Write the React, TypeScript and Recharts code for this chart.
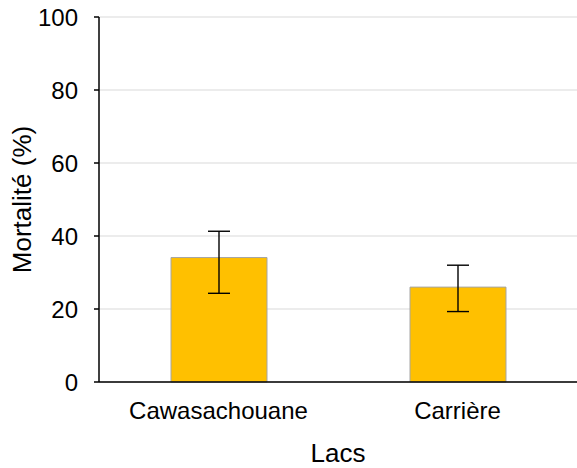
import React from "react";
import {
  Bar,
  BarChart,
  CartesianGrid,
  ErrorBar,
  Label,
  XAxis,
  YAxis,
} from "recharts";

const lakes = ["Cawasachouane", "Carrière"];
const mortality = [34.1, 26.0];
const errLow = [9.8, 6.7];
const errHigh = [7.2, 6.0];
const yTicks = [0, 20, 40, 60, 80, 100];

const data = lakes.map((name, i) => ({
  name,
  value: mortality[i],
  err: [errLow[i], errHigh[i]],
}));

const font = "'Liberation Sans', Arial, sans-serif";

export default function App() {
  return (
    <div style={{ position: "absolute", left: 0, top: 0 }}>
      <BarChart
        width={577}
        height={468}
        data={data}
        margin={{ top: 17, right: 0, left: 0, bottom: 0 }}
        style={{ fontFamily: font }}
      >
        <CartesianGrid vertical={false} stroke="#D9D9D9" strokeWidth={1} />
        {/* boundary ticks between categories */}
        <XAxis
          xAxisId="edge"
          type="number"
          domain={[0, 2]}
          ticks={[0, 1, 2]}
          height={0}
          axisLine={false}
          tickSize={6}
          tickLine={{ stroke: "#000", strokeWidth: 1.5 }}
          tickFormatter={() => ""}
        />
        <XAxis
          dataKey="name"
          height={86}
          axisLine={{ stroke: "#000", strokeWidth: 1.5 }}
          tickLine={false}
          tickSize={6}
          tickMargin={14}
          tick={{ fill: "#000", fontSize: 24 }}
        >
          <Label
            value="Lacs"
            position="insideBottom"
            offset={6}
            style={{ fill: "#000", fontSize: 26 }}
          />
        </XAxis>
        <YAxis
          width={99}
          domain={[0, 100]}
          ticks={yTicks}
          interval={0}
          axisLine={{ stroke: "#000", strokeWidth: 1.5 }}
          tickLine={{ stroke: "#000", strokeWidth: 1.5 }}
          tickSize={5}
          tickMargin={16}
          tick={{ fill: "#000", fontSize: 24 }}
        >
          <Label
            content={({ viewBox }: any) => {
              const cx = 30.5;
              const cy = viewBox.y + viewBox.height / 2;
              return (
                <text
                  x={cx}
                  y={cy}
                  transform={`rotate(-90 ${cx} ${cy})`}
                  textAnchor="middle"
                  fill="#000"
                  fontSize={26}
                  fontFamily={font}
                >
                  Mortalité (%)
                </text>
              );
            }}
          />
        </YAxis>
        <Bar
          dataKey="value"
          barSize={96}
          fill="#FFC000"
          stroke="#A5A5A5"
          strokeWidth={1}
          isAnimationActive={false}
        >
          <ErrorBar
            dataKey="err"
            width={11}
            stroke="#000"
            strokeWidth={1.4}
            isAnimationActive={false}
          />
        </Bar>
      </BarChart>
    </div>
  );
}
